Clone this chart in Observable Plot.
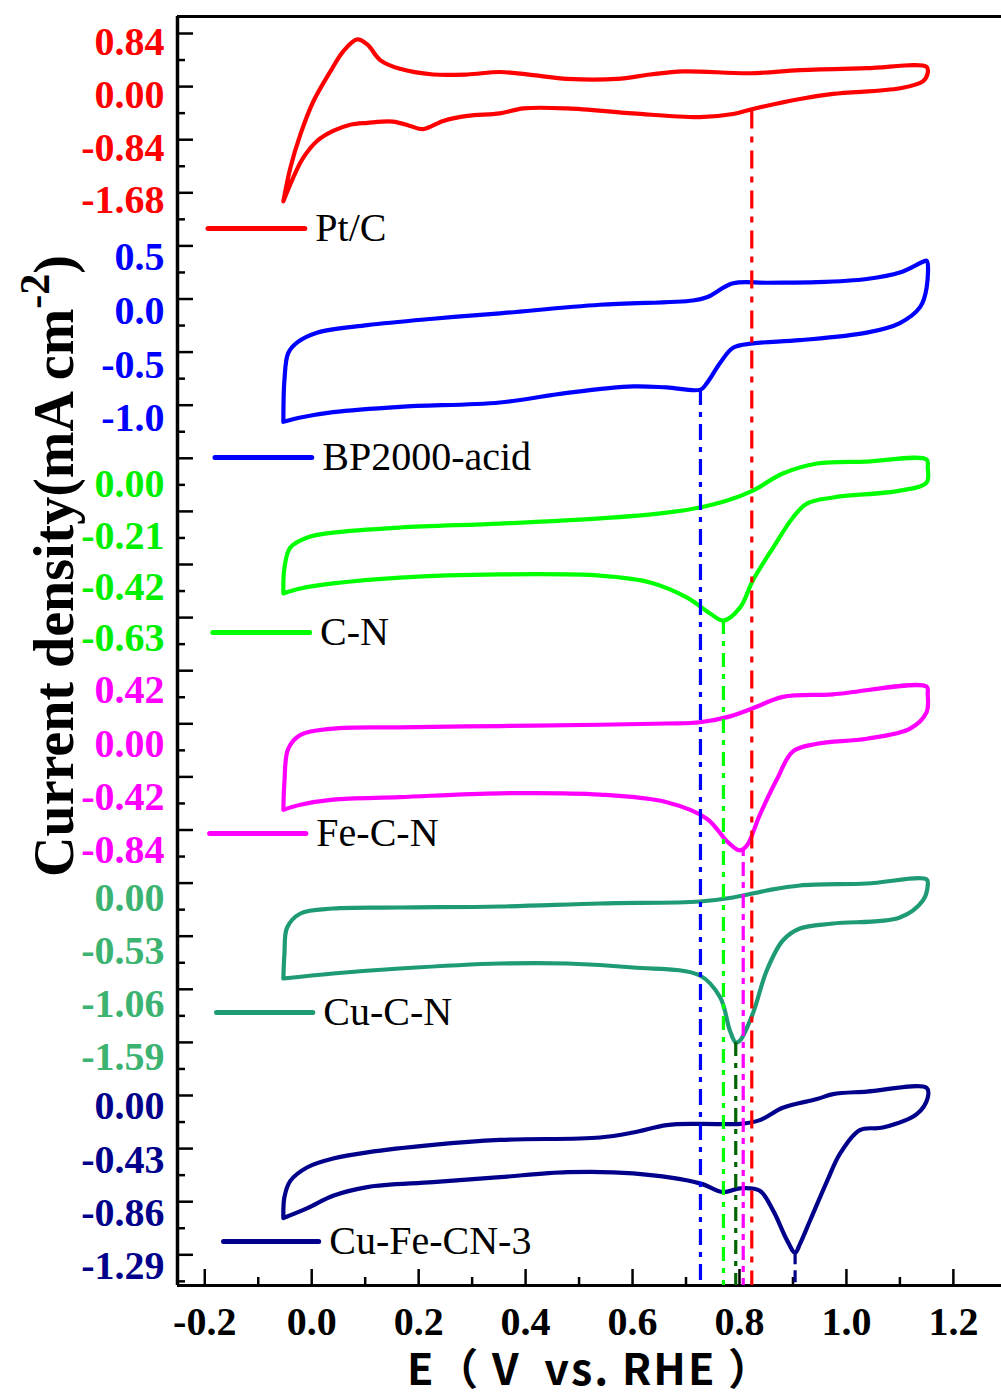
<!DOCTYPE html>
<html>
<head>
<meta charset="utf-8">
<script src="https://cdn.jsdelivr.net/npm/d3@7"></script>
<script src="https://cdn.jsdelivr.net/npm/@observablehq/plot@0.6"></script>
<style>
  body { margin: 0; background: #fff; }
  #chart svg { display: block; }
</style>
</head>
<body>
<div id="chart"></div>
<script>
// Cyclic voltammograms (E vs. RHE, V / current density, mA cm^-2), one loop per catalyst:
// anodic sweep from -0.05 V to 1.15 V, then the cathodic sweep back.
const ptcE = [-0.053, -0.040, -0.021, 0.003, 0.035, 0.059, 0.085, 0.104, 0.128, 0.165, 0.227, 0.291, 0.352, 0.414, 0.478, 0.571, 0.633, 0.694, 0.820, 0.913, 1.038, 1.150,
  1.152, 1.143, 1.100, 0.975, 0.913, 0.825, 0.788, 0.726, 0.601, 0.478, 0.396, 0.352, 0.291, 0.246, 0.208, 0.184, 0.152, 0.104, 0.072, 0.040, 0.010, -0.016, -0.035, -0.053];
const ptcJ = [-1.69, -1.16, -0.62, -0.10, 0.38, 0.70, 0.89, 0.81, 0.56, 0.42, 0.33, 0.33, 0.37, 0.32, 0.26, 0.26, 0.33, 0.38, 0.35, 0.40, 0.43, 0.45,
  0.35, 0.22, 0.11, 0.02, -0.06, -0.22, -0.30, -0.35, -0.29, -0.21, -0.21, -0.29, -0.33, -0.41, -0.54, -0.49, -0.42, -0.44, -0.47, -0.57, -0.73, -1.00, -1.32, -1.69];

const bpE = [-0.053, -0.051, -0.044, -0.027, 0.010, 0.104, 0.227, 0.352, 0.539, 0.713, 0.739, 0.788, 0.851, 0.945, 1.038, 1.100, 1.143, 1.150,
  1.150, 1.138, 1.100, 1.038, 0.913, 0.825, 0.788, 0.764, 0.739, 0.727, 0.664, 0.601, 0.478, 0.352, 0.165, 0.040, -0.021, -0.053];
const bpJ = [-1.03, -0.64, -0.39, -0.29, -0.20, -0.13, -0.07, -0.02, 0.06, 0.10, 0.13, 0.26, 0.265, 0.27, 0.30, 0.36, 0.46, 0.47,
  0.22, 0.04, -0.11, -0.20, -0.27, -0.30, -0.34, -0.48, -0.67, -0.73, -0.71, -0.70, -0.76, -0.85, -0.89, -0.94, -0.99, -1.03];

const cnE = [-0.053, -0.051, -0.040, -0.008, 0.040, 0.165, 0.352, 0.539, 0.664, 0.726, 0.777, 0.825, 0.881, 0.945, 1.038, 1.150,
  1.152, 1.150, 1.100, 0.975, 0.926, 0.900, 0.863, 0.825, 0.801, 0.770, 0.745, 0.702, 0.633, 0.539, 0.352, 0.165, 0.040, -0.021, -0.053];
const cnJ = [-0.446, -0.340, -0.258, -0.217, -0.197, -0.176, -0.160, -0.139, -0.115, -0.094, -0.066, -0.025, 0.045, 0.086, 0.094, 0.102,
  0.070, 0.008, -0.025, -0.053, -0.078, -0.135, -0.258, -0.393, -0.504, -0.557, -0.528, -0.463, -0.401, -0.373, -0.368, -0.381, -0.405, -0.426, -0.446];

const fecnE = [-0.053, -0.051, -0.044, -0.021, 0.040, 0.165, 0.352, 0.539, 0.664, 0.726, 0.777, 0.825, 0.881, 0.975, 1.150,
  1.152, 1.150, 1.119, 1.038, 0.945, 0.900, 0.870, 0.838, 0.814, 0.800, 0.777, 0.739, 0.664, 0.539, 0.352, 0.165, 0.040, -0.021, -0.053];
const fecnJ = [-0.52, -0.30, -0.04, 0.07, 0.12, 0.13, 0.14, 0.15, 0.16, 0.17, 0.21, 0.28, 0.37, 0.39, 0.45,
  0.39, 0.25, 0.12, 0.04, 0.00, -0.06, -0.28, -0.56, -0.80, -0.84, -0.77, -0.59, -0.46, -0.40, -0.39, -0.42, -0.44, -0.48, -0.52];

const cucnE = [-0.053, -0.051, -0.046, -0.021, 0.040, 0.165, 0.352, 0.539, 0.726, 0.788, 0.851, 0.913, 1.038, 1.150,
  1.152, 1.143, 1.100, 0.975, 0.913, 0.881, 0.851, 0.825, 0.801, 0.793, 0.782, 0.764, 0.726, 0.601, 0.478, 0.352, 0.165, 0.040, -0.053];
const cucnJ = [-0.80, -0.55, -0.29, -0.15, -0.10, -0.09, -0.08, -0.05, -0.03, 0.01, 0.08, 0.13, 0.15, 0.19,
  0.13, -0.02, -0.19, -0.25, -0.30, -0.42, -0.72, -1.15, -1.42, -1.44, -1.32, -0.99, -0.77, -0.69, -0.65, -0.65, -0.70, -0.75, -0.80];

const cufeE = [-0.053, -0.051, -0.040, -0.008, 0.040, 0.104, 0.227, 0.352, 0.539, 0.601, 0.664, 0.726, 0.801, 0.838, 0.881, 0.945, 0.975, 1.038, 1.150,
  1.152, 1.132, 1.068, 1.025, 0.988, 0.964, 0.932, 0.913, 0.904, 0.889, 0.863, 0.838, 0.801, 0.769, 0.726, 0.601, 0.478, 0.352, 0.227, 0.104, 0.040, -0.008, -0.053];
const cufeJ = [-0.90, -0.73, -0.60, -0.49, -0.42, -0.37, -0.31, -0.27, -0.25, -0.21, -0.15, -0.14, -0.14, -0.11, -0.01, 0.06, 0.10, 0.12, 0.15,
  0.07, -0.06, -0.17, -0.19, -0.38, -0.60, -0.92, -1.11, -1.18, -1.08, -0.84, -0.68, -0.66, -0.69, -0.62, -0.54, -0.53, -0.57, -0.61, -0.65, -0.72, -0.82, -0.90];

// Tick labels of each stacked current axis, top to bottom
const ptcTicks  = [0.84, 0.00, -0.84, -1.68];
const bpTicks   = [0.5, 0.0, -0.5, -1.0];
const cnTicks   = [0.00, -0.21, -0.42, -0.63];
const fecnTicks = [0.42, 0.00, -0.42, -0.84];
const cucnTicks = [0.00, -0.53, -1.06, -1.59];
const cufeTicks = [0.00, -0.43, -0.86, -1.29];

// Reduction-peak / onset potentials marked with drop lines, and the current where each line starts
const markerE = [0.823, 0.727, 0.770, 0.807, 0.793, 0.904];
const markerJ = [-0.25, -0.73, -0.557, -0.84, -1.44, -1.18];

// Potential axis ticks
const xTickValues = [-0.2, -0.1, 0.0, 0.1, 0.2, 0.3, 0.4, 0.5, 0.6, 0.7, 0.8, 0.9, 1.0, 1.1, 1.2];

const series = [
  {name: "Pt/C",        E: ptcE,  J: ptcJ,  ticks: ptcTicks,  digits: 2, color: "#ff0000", tickColor: "#ff0000", mark: "#ff0000"},
  {name: "BP2000-acid", E: bpE,   J: bpJ,   ticks: bpTicks,   digits: 1, color: "#0000ff", tickColor: "#0000ff", mark: "#0000ff"},
  {name: "C-N",         E: cnE,   J: cnJ,   ticks: cnTicks,   digits: 2, color: "#00ff00", tickColor: "#00ee00", mark: "#00ff00"},
  {name: "Fe-C-N",      E: fecnE, J: fecnJ, ticks: fecnTicks, digits: 2, color: "#ff00ff", tickColor: "#ff00ff", mark: "#ff00ff"},
  {name: "Cu-C-N",      E: cucnE, J: cucnJ, ticks: cucnTicks, digits: 2, color: "#1e9a74", tickColor: "#3cb371", mark: "#006400"},
  {name: "Cu-Fe-CN-3",  E: cufeE, J: cufeJ, ticks: cufeTicks, digits: 2, color: "#00008b", tickColor: "#00008b", mark: "#00008b"}
];

// Layout: the stacked y coordinate runs 0 (frame top) .. frameH (frame bottom)
const W = 1001, H = 1396;
const marginLeft = 177, marginTop = 16;
const frameH = 1269;
const marginBottom = H - marginTop - frameH;
const xMin = -0.251, xMax = 1.29;
const pxPerVolt = (W - marginLeft) / (xMax - xMin);

// Where the first tick label of each panel sits, and the spacing between its labels
const panelTop = [26, 241, 468, 674, 882, 1090];
const panelGap = [52.7, 53.7, 51.3, 53.3, 53.0, 53.3];
// Legend rows (stacked coordinate) and the potential span of each legend swatch
const legendY = [212, 441, 616, 817, 996, 1225];
const legendX = [[-0.193, -0.012], [-0.180, 0.001], [-0.184, -0.003], [-0.190, -0.010], [-0.177, 0.003], [-0.164, 0.014]];
const markerDash = ["18,8,6,8", "16,7,5,7", "14,7,5,7", "6,6,14,6", "14,7,5,7", "12,6"];

// current of panel p -> stacked coordinate
function stackY(p, j) {
  const t = series[p].ticks;
  return panelTop[p] + (t[0] - j) / (t[0] - t[1]) * panelGap[p];
}

const serif = "'Liberation Serif', 'Times New Roman', serif";
const marks = [];

// Frame: left spine, top and bottom lines
marks.push(Plot.ruleY([0, frameH], {y: d => d, stroke: "black", strokeWidth: 3}));
marks.push(Plot.ruleX([xMin], {x: d => d, y1: () => 0, y2: () => frameH, stroke: "black", strokeWidth: 3.5}));

// Inward ticks on the current axis (alternating major/minor)
const yTicks = d3.range(48).map(k => ({g: 17 + 26.55 * k, len: k % 2 ? 8 : 16}));
marks.push(Plot.ruleY(yTicks, {y: d => d.g, x1: () => xMin, x2: d => xMin + d.len / pxPerVolt, stroke: "black", strokeWidth: 2.5}));

// Inward ticks on the potential axis
const xTicks = xTickValues.map((v, i) => ({v, major: i % 2 === 0}));
marks.push(Plot.ruleX(xTicks, {x: d => d.v, y1: () => frameH, y2: d => frameH - (d.major ? 16 : 8), stroke: "black", strokeWidth: 2.5}));
marks.push(Plot.text(xTicks.filter(d => d.major), {
  x: d => d.v, y: () => frameH, dy: 37, text: d => d.v.toFixed(1),
  fontFamily: serif, fontWeight: "bold", fontSize: 40, fill: "black"
}));

series.forEach((s, p) => {
  // colored tick labels of this panel
  marks.push(Plot.text(s.ticks, {
    x: () => xMin, y: v => stackY(p, v), dx: -13, textAnchor: "end",
    text: v => v.toFixed(s.digits),
    fontFamily: serif, fontWeight: "bold", fontSize: 40, fill: s.tickColor
  }));
  // the voltammogram loop
  marks.push(Plot.line(d3.range(s.E.length), {
    x: i => s.E[i], y: i => stackY(p, s.J[i]),
    stroke: s.color, strokeWidth: 4.2, curve: "catmull-rom",
    strokeLinejoin: "round", strokeLinecap: "round"
  }));
  // legend swatch + name
  marks.push(Plot.ruleY([p], {
    y: () => legendY[p], x1: () => legendX[p][0], x2: () => legendX[p][1],
    stroke: s.color, strokeWidth: 5, strokeLinecap: "round"
  }));
  marks.push(Plot.text([s.name], {
    x: () => legendX[p][1], y: () => legendY[p], dx: 10, text: d => d, textAnchor: "start",
    fontFamily: serif, fontSize: 40, fill: "black"
  }));
});

// Drop lines from each characteristic potential to the potential axis
series.forEach((s, p) => {
  marks.push(Plot.ruleX([p], {
    x: () => markerE[p], y1: () => stackY(p, markerJ[p]), y2: () => frameH,
    stroke: s.mark, strokeWidth: 3.2, strokeDasharray: markerDash[p]
  }));
});

const chart = Plot.plot({
  width: W, height: H,
  marginLeft, marginTop, marginBottom, marginRight: 0,
  x: {domain: [xMin, xMax], axis: null},
  y: {domain: [frameH, 0], axis: null},
  style: {fontFamily: serif, background: "white"},
  marks
});

const svg = d3.select(chart);

// y-axis title with superscript unit
const yTitle = svg.append("text")
  .attr("transform", "translate(73,566) rotate(-90)")
  .attr("text-anchor", "middle")
  .attr("font-family", serif)
  .attr("font-weight", "bold")
  .attr("font-size", 56)
  .attr("fill", "black");
yTitle.append("tspan").text("Current density(mA cm");
yTitle.append("tspan").attr("font-size", 42).attr("dy", -24).text("-2");
yTitle.append("tspan").attr("dy", 24).text(")");

// x-axis title
svg.append("text")
  .attr("x", 590).attr("y", 1385)
  .attr("text-anchor", "middle")
  .attr("font-family", "'Noto Sans CJK SC', 'Noto Sans', sans-serif")
  .attr("font-weight", "bold")
  .attr("font-size", 43)
  .attr("letter-spacing", 2)
  .attr("fill", "black")
  .style("white-space", "pre")
  .text("E（ V  vs. RHE ）");

document.getElementById("chart").appendChild(chart);
</script>
</body>
</html>
